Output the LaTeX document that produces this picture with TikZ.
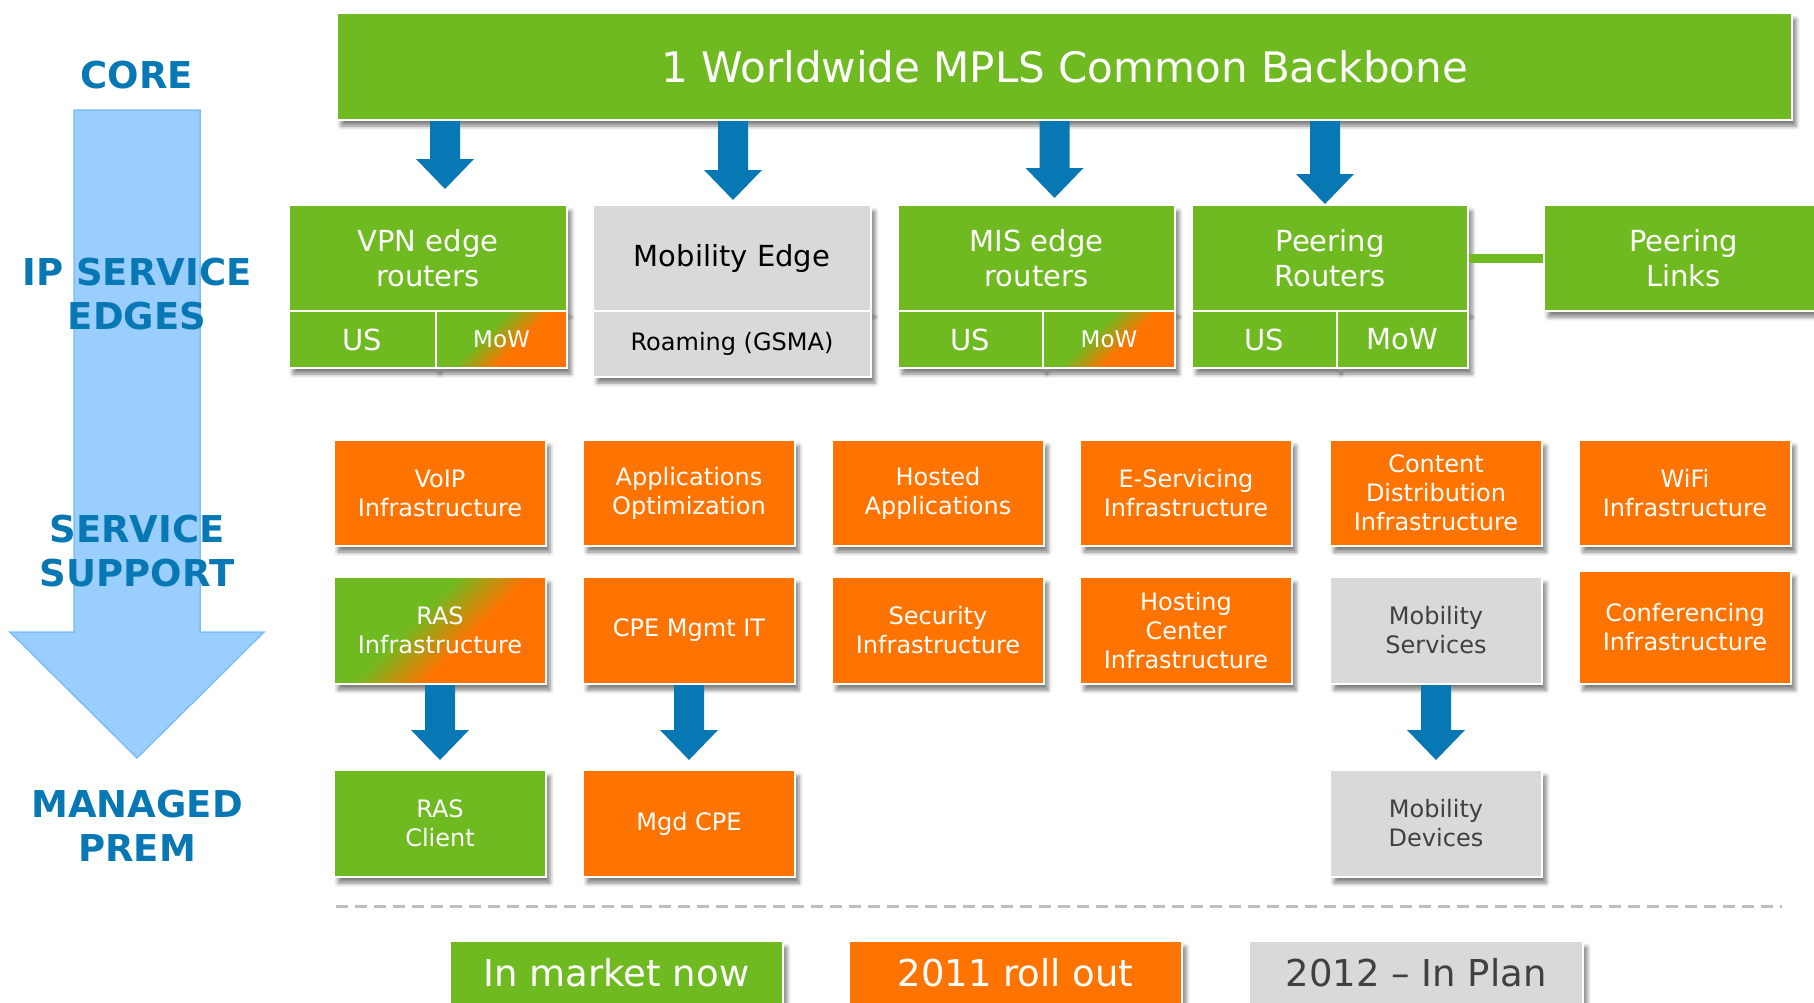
\documentclass[tikz,border=0pt]{standalone}
\usepackage{fontspec}
\setmainfont{DejaVu Sans}
\usetikzlibrary{calc,shadows.blur}

\definecolor{grn}{RGB}{112,186,33}
\definecolor{orng}{RGB}{255,115,0}
\definecolor{gry}{RGB}{217,217,217}
\definecolor{navy}{RGB}{8,120,181}
\definecolor{skyfill}{RGB}{153,206,255}
\definecolor{skyline}{RGB}{125,190,250}
\definecolor{darktxt}{RGB}{64,64,64}
\definecolor{dashgray}{RGB}{191,191,191}

% green corner fading diagonally into orange
\pgfdeclareverticalshading{greentoorange}{100bp}{color(0bp)=(orng); color(42bp)=(orng); color(58bp)=(grn); color(100bp)=(grn)}

\tikzset{
  tile/.style={draw=white, line width=2pt, anchor=north west, inner sep=0pt,
    align=center, text=white,
    blur shadow={shadow xshift=4pt, shadow yshift=-6pt, shadow blur radius=4pt, shadow opacity=50}},
  greentile/.style={tile, fill=grn},
  orangetile/.style={tile, fill=orng},
  graytile/.style={tile, fill=gry},
  mixtile/.style={tile, shade, shading=greentoorange, shading angle=45},
  txtXL/.style={font=\fontsize{42pt}{50pt}\selectfont},
  txtLeg/.style={font=\fontsize{37pt}{44pt}\selectfont},
  txtL/.style={font=\fontsize{29pt}{35pt}\selectfont},
  txtM/.style={font=\fontsize{24pt}{29pt}\selectfont},
  txtS/.style={font=\fontsize{23pt}{28pt}\selectfont},
  layer/.style={font=\bfseries\fontsize{37pt}{44pt}\selectfont, text=navy, align=center},
  w/.style={minimum width=#1},
  h/.style={minimum height=#1},
}

% thick downward block arrow: shaft from the level of #1 to the tip #2
\newcommand\flowdown[2]{%
  \fill[navy] let \p1=#1, \p2=#2 in
    (\x2-15pt,\y1) -- (\x2+15pt,\y1) -- (\x2+15pt,\y2+30pt) -- (\x2+29pt,\y2+30pt)
    -- (\x2,\y2) -- (\x2-29pt,\y2+30pt) -- (\x2-15pt,\y2+30pt) -- cycle;}

\begin{document}
\begin{tikzpicture}[x=1pt,y=-1pt]
\path[use as bounding box] (0,0) rectangle (1814,1002);
\clip (0,0) rectangle (1814,1002);

% layer axis on the left
\fill[skyfill, draw=skyline, line width=1.5pt]
  (74,110) -- (200,110) -- (200,632) -- (264,632) -- (137,758) -- (10,632) -- (74,632) -- cycle;
\node[layer] (lcore) at (137,75) {CORE};
\node[layer] (ledge) at (137,294) {IP SERVICE\\EDGES};
\node[layer] (lsupp) at (137,551) {SERVICE\\SUPPORT};
\node[layer] (lprem) at (137,826) {MANAGED\\PREM};

% backbone
\node[greentile, txtXL, w=1455pt, h=107pt] (banner) at (336,12) {1 Worldwide MPLS Common Backbone};

% IP service edges
\node[greentile, txtL, w=278pt, h=106pt] (vpn) at (288,204) {VPN edge\\routers};
\node[greentile, txtL, w=147pt, h=57pt] (vpnus) at (288,310) {US};
\node[mixtile, txtS, w=131pt, h=57pt] (vpnmow) at (435,310) {MoW};

\node[graytile, txtL, text=black, w=278pt, h=106pt] (mob) at (592,204) {Mobility Edge};
\node[graytile, txtM, text=black, w=278pt, h=66pt] (roam) at (592,310) {Roaming (GSMA)};

\node[greentile, txtL, w=277pt, h=106pt] (mis) at (897,204) {MIS edge\\routers};
\node[greentile, txtL, w=145pt, h=57pt] (misus) at (897,310) {US};
\node[mixtile, txtS, w=132pt, h=57pt] (mismow) at (1042,310) {MoW};

\node[greentile, txtL, w=276pt, h=106pt] (peer) at (1191,204) {Peering\\Routers};
\node[greentile, txtL, w=145pt, h=57pt] (peerus) at (1191,310) {US};
\node[greentile, txtL, w=131pt, h=57pt] (peermow) at (1336,310) {MoW};

\node[greentile, txtL, w=279pt, h=106pt] (links) at (1543,204) {Peering\\Links};
\draw[grn, line width=9pt] (peer.east) -- (links.west);

% backbone feeds the edges
\flowdown{(banner.south)}{([xshift=17pt,yshift=15pt]vpn.north)}
\flowdown{(banner.south)}{([xshift=1pt,yshift=4pt]mob.north)}
\flowdown{(banner.south)}{([xshift=18pt,yshift=6pt]mis.north)}
\flowdown{(banner.south)}{([xshift=-5pt,yshift=0pt]peer.north)}

% service support, first row
\node[orangetile, txtM, w=212pt, h=106pt] (voip) at (333,439) {VoIP\\Infrastructure};
\node[orangetile, txtM, w=212pt, h=106pt] (appopt) at (582,439) {Applications\\Optimization};
\node[orangetile, txtM, w=212pt, h=106pt] (hosted) at (831,439) {Hosted\\Applications};
\node[orangetile, txtM, w=212pt, h=106pt] (eserv) at (1079,439) {E-Servicing\\Infrastructure};
\node[orangetile, txtM, w=212pt, h=106pt] (cdn) at (1329,439) {Content\\Distribution\\Infrastructure};
\node[orangetile, txtM, w=212pt, h=106pt] (wifi) at (1578,439) {WiFi\\Infrastructure};

% service support, second row
\node[mixtile, txtM, w=212pt, h=107pt] (ras) at (333,576) {RAS\\Infrastructure};
\node[orangetile, txtM, w=212pt, h=107pt] (cpeit) at (582,576) {CPE Mgmt IT};
\node[orangetile, txtM, w=212pt, h=107pt] (secu) at (831,576) {Security\\Infrastructure};
\node[orangetile, txtM, w=212pt, h=107pt] (hostc) at (1079,576) {Hosting\\Center\\Infrastructure};
\node[graytile, txtM, text=darktxt, w=212pt, h=107pt] (mobsvc) at (1329,576) {Mobility\\Services};
\node[orangetile, txtM, w=212pt, h=113pt] (conf) at (1578,570) {Conferencing\\Infrastructure};

% managed premises
\node[greentile, txtM, w=212pt, h=107pt] (rascl) at (333,769) {RAS\\Client};
\node[orangetile, txtM, w=212pt, h=107pt] (mgdcpe) at (582,769) {Mgd CPE};
\node[graytile, txtM, text=darktxt, w=212pt, h=107pt] (mobdev) at (1329,769) {Mobility\\Devices};

\flowdown{(ras.south)}{([yshift=9pt]rascl.north)}
\flowdown{(cpeit.south)}{([yshift=9pt]mgdcpe.north)}
\flowdown{(mobsvc.south)}{([yshift=9pt]mobdev.north)}

% separator above the key
\coordinate (sepl) at (336,906);
\coordinate (sepr) at (1782,906);
\draw[dashgray, line width=3pt, dash pattern=on 12pt off 7pt] (sepl) -- (sepr);

% key
\node[greentile, txtLeg, w=333pt, h=64pt] (keynow) at (449,940) {In market now};
\node[orangetile, txtLeg, w=333pt, h=64pt] (key11) at (848,940) {2011 roll out};
\node[graytile, txtLeg, text=darktxt, w=334pt, h=64pt] (key12) at (1248,940) {2012 – In Plan};
\end{tikzpicture}
\end{document}
